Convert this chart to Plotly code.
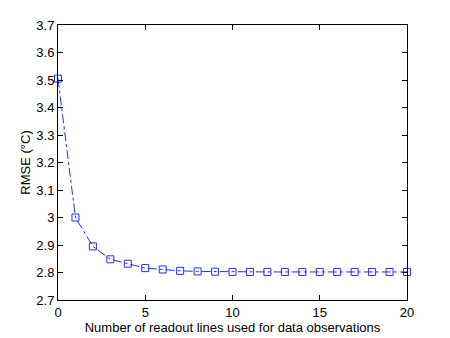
import plotly.graph_objects as go

# number of readout lines and resulting RMSE
n_lines = list(range(0, 21))
rmse = [3.505, 3.0, 2.895, 2.848, 2.832, 2.816, 2.811, 2.806, 2.804, 2.803,
        2.802, 2.802, 2.802, 2.802, 2.802, 2.802, 2.802, 2.802, 2.802, 2.802, 2.802]

x_ticks = [0, 5, 10, 15, 20]
y_ticks = [2.7, 2.8, 2.9, 3.0, 3.1, 3.2, 3.3, 3.4, 3.5, 3.6, 3.7]

blue = '#2a2aff'

fig = go.Figure()
fig.add_trace(go.Scatter(
    x=n_lines,
    y=rmse,
    mode='lines+markers',
    line=dict(color=blue, width=1, dash='dashdot'),
    marker=dict(symbol='square-open', size=7, color=blue, line=dict(width=1, color=blue)),
    cliponaxis=False,
    showlegend=False
))

axis_common = dict(
    showline=True, linecolor='black', linewidth=1, mirror='ticks',
    ticks='inside', ticklen=5, tickcolor='black', showgrid=False, zeroline=False,
    tickfont=dict(family='Liberation Sans, Arial', size=13, color='black'),
)

# the page body adds an 8px margin, so the figure is sized to fit inside it
fig.update_layout(
    width=442, height=330,
    margin=dict(l=50, r=43, t=17, b=38),
    paper_bgcolor='white', plot_bgcolor='white',
    font=dict(family='Liberation Sans, Arial', size=13, color='black'),
    xaxis=dict(range=[0, 20], tickvals=x_ticks, automargin=False,
               title=dict(text='Number of readout lines used for data observations',
                          standoff=2, font=dict(size=13)),
               **axis_common),
    yaxis=dict(range=[2.7, 3.7], tickvals=y_ticks, automargin=False,
               title=dict(text='RMSE (°C)', standoff=2, font=dict(size=13)),
               **axis_common),
)

fig.write_html("out.html")
